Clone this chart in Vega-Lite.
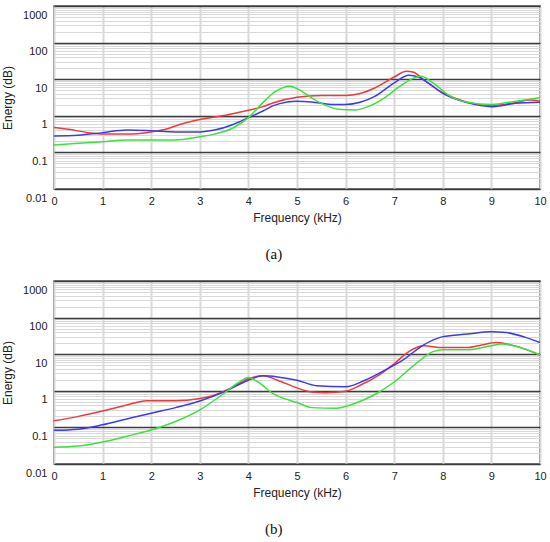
{
  "$schema": "https://vega.github.io/schema/vega-lite/v6.json",
  "padding": {"left": 0, "top": 5, "right": 4, "bottom": 5},
  "spacing": 17,
  "config": {
    "view": {"stroke": "#505050", "strokeWidth": 1.5},
    "font": "Liberation Sans",
    "axis": {
      "labelFont": "Liberation Sans",
      "titleFont": "Liberation Sans",
      "labelFontSize": 11,
      "titleFontSize": 12,
      "titleFontWeight": "normal",
      "labelColor": "#222",
      "titleColor": "#222",
      "ticks": false,
      "domain": false,
      "labelFlush": false,
      "labelOverlap": false
    }
  },
  "data": {"values": [
    {"panel": "a", "series": "red", "freq": 0, "energy": 0.479},
    {"panel": "a", "series": "red", "freq": 0.3, "energy": 0.427},
    {"panel": "a", "series": "red", "freq": 0.7, "energy": 0.347},
    {"panel": "a", "series": "red", "freq": 1, "energy": 0.316},
    {"panel": "a", "series": "red", "freq": 1.5, "energy": 0.316},
    {"panel": "a", "series": "red", "freq": 2, "energy": 0.363},
    {"panel": "a", "series": "red", "freq": 2.3, "energy": 0.427},
    {"panel": "a", "series": "red", "freq": 2.6, "energy": 0.589},
    {"panel": "a", "series": "red", "freq": 3, "energy": 0.794},
    {"panel": "a", "series": "red", "freq": 3.5, "energy": 1.023},
    {"panel": "a", "series": "red", "freq": 4, "energy": 1.413},
    {"panel": "a", "series": "red", "freq": 4.3, "energy": 1.778},
    {"panel": "a", "series": "red", "freq": 4.5, "energy": 2.24},
    {"panel": "a", "series": "red", "freq": 5, "energy": 3.236},
    {"panel": "a", "series": "red", "freq": 5.5, "energy": 3.59},
    {"panel": "a", "series": "red", "freq": 6, "energy": 3.59},
    {"panel": "a", "series": "red", "freq": 6.3, "energy": 4.07},
    {"panel": "a", "series": "red", "freq": 6.6, "energy": 5.75},
    {"panel": "a", "series": "red", "freq": 7, "energy": 11.48},
    {"panel": "a", "series": "red", "freq": 7.25, "energy": 16.6},
    {"panel": "a", "series": "red", "freq": 7.4, "energy": 15.5},
    {"panel": "a", "series": "red", "freq": 7.6, "energy": 9.77},
    {"panel": "a", "series": "red", "freq": 8, "energy": 4.27},
    {"panel": "a", "series": "red", "freq": 8.5, "energy": 2.34},
    {"panel": "a", "series": "red", "freq": 9, "energy": 1.905},
    {"panel": "a", "series": "red", "freq": 9.5, "energy": 2.29},
    {"panel": "a", "series": "red", "freq": 9.8, "energy": 2.69},
    {"panel": "a", "series": "red", "freq": 10, "energy": 2.51},

    {"panel": "a", "series": "blue", "freq": 0, "energy": 0.282},
    {"panel": "a", "series": "blue", "freq": 0.5, "energy": 0.295},
    {"panel": "a", "series": "blue", "freq": 1, "energy": 0.347},
    {"panel": "a", "series": "blue", "freq": 1.5, "energy": 0.407},
    {"panel": "a", "series": "blue", "freq": 2, "energy": 0.389},
    {"panel": "a", "series": "blue", "freq": 2.5, "energy": 0.363},
    {"panel": "a", "series": "blue", "freq": 3, "energy": 0.363},
    {"panel": "a", "series": "blue", "freq": 3.3, "energy": 0.407},
    {"panel": "a", "series": "blue", "freq": 3.7, "energy": 0.589},
    {"panel": "a", "series": "blue", "freq": 4, "energy": 0.891},
    {"panel": "a", "series": "blue", "freq": 4.3, "energy": 1.349},
    {"panel": "a", "series": "blue", "freq": 4.5, "energy": 1.862},
    {"panel": "a", "series": "blue", "freq": 4.8, "energy": 2.399},
    {"panel": "a", "series": "blue", "freq": 5, "energy": 2.512},
    {"panel": "a", "series": "blue", "freq": 5.3, "energy": 2.399},
    {"panel": "a", "series": "blue", "freq": 5.7, "energy": 2.042},
    {"panel": "a", "series": "blue", "freq": 6, "energy": 2.042},
    {"panel": "a", "series": "blue", "freq": 6.3, "energy": 2.344},
    {"panel": "a", "series": "blue", "freq": 6.6, "energy": 3.388},
    {"panel": "a", "series": "blue", "freq": 7, "energy": 7.943},
    {"panel": "a", "series": "blue", "freq": 7.3, "energy": 12.88},
    {"panel": "a", "series": "blue", "freq": 7.5, "energy": 11.48},
    {"panel": "a", "series": "blue", "freq": 7.7, "energy": 7.943},
    {"panel": "a", "series": "blue", "freq": 8, "energy": 4.074},
    {"panel": "a", "series": "blue", "freq": 8.5, "energy": 2.291},
    {"panel": "a", "series": "blue", "freq": 9, "energy": 1.778},
    {"panel": "a", "series": "blue", "freq": 9.5, "energy": 2.188},
    {"panel": "a", "series": "blue", "freq": 10, "energy": 2.344},

    {"panel": "a", "series": "green", "freq": 0, "energy": 0.158},
    {"panel": "a", "series": "green", "freq": 0.5, "energy": 0.178},
    {"panel": "a", "series": "green", "freq": 1, "energy": 0.195},
    {"panel": "a", "series": "green", "freq": 1.5, "energy": 0.219},
    {"panel": "a", "series": "green", "freq": 2, "energy": 0.219},
    {"panel": "a", "series": "green", "freq": 2.5, "energy": 0.219},
    {"panel": "a", "series": "green", "freq": 3, "energy": 0.269},
    {"panel": "a", "series": "green", "freq": 3.3, "energy": 0.316},
    {"panel": "a", "series": "green", "freq": 3.7, "energy": 0.479},
    {"panel": "a", "series": "green", "freq": 4, "energy": 0.891},
    {"panel": "a", "series": "green", "freq": 4.3, "energy": 2.291},
    {"panel": "a", "series": "green", "freq": 4.55, "energy": 4.571},
    {"panel": "a", "series": "green", "freq": 4.85, "energy": 6.457},
    {"panel": "a", "series": "green", "freq": 5.1, "energy": 4.677},
    {"panel": "a", "series": "green", "freq": 5.3, "energy": 3.09},
    {"panel": "a", "series": "green", "freq": 5.6, "energy": 1.905},
    {"panel": "a", "series": "green", "freq": 5.85, "energy": 1.514},
    {"panel": "a", "series": "green", "freq": 6.2, "energy": 1.445},
    {"panel": "a", "series": "green", "freq": 6.5, "energy": 1.862},
    {"panel": "a", "series": "green", "freq": 6.8, "energy": 3.09},
    {"panel": "a", "series": "green", "freq": 7.1, "energy": 6.166},
    {"panel": "a", "series": "green", "freq": 7.4, "energy": 10.72},
    {"panel": "a", "series": "green", "freq": 7.55, "energy": 12.02},
    {"panel": "a", "series": "green", "freq": 7.8, "energy": 7.943},
    {"panel": "a", "series": "green", "freq": 8.1, "energy": 3.802},
    {"panel": "a", "series": "green", "freq": 8.5, "energy": 2.344},
    {"panel": "a", "series": "green", "freq": 9, "energy": 2.042},
    {"panel": "a", "series": "green", "freq": 9.5, "energy": 2.512},
    {"panel": "a", "series": "green", "freq": 10, "energy": 3.09},

    {"panel": "b", "series": "red", "freq": 0, "energy": 0.151},
    {"panel": "b", "series": "red", "freq": 0.5, "energy": 0.2},
    {"panel": "b", "series": "red", "freq": 1, "energy": 0.282},
    {"panel": "b", "series": "red", "freq": 1.5, "energy": 0.407},
    {"panel": "b", "series": "red", "freq": 1.9, "energy": 0.537},
    {"panel": "b", "series": "red", "freq": 2.5, "energy": 0.537},
    {"panel": "b", "series": "red", "freq": 3, "energy": 0.617},
    {"panel": "b", "series": "red", "freq": 3.3, "energy": 0.759},
    {"panel": "b", "series": "red", "freq": 3.6, "energy": 1.122},
    {"panel": "b", "series": "red", "freq": 4, "energy": 2.138},
    {"panel": "b", "series": "red", "freq": 4.3, "energy": 2.57},
    {"panel": "b", "series": "red", "freq": 4.6, "energy": 1.95},
    {"panel": "b", "series": "red", "freq": 5, "energy": 1.202},
    {"panel": "b", "series": "red", "freq": 5.3, "energy": 0.933},
    {"panel": "b", "series": "red", "freq": 5.6, "energy": 0.891},
    {"panel": "b", "series": "red", "freq": 6, "energy": 0.977},
    {"panel": "b", "series": "red", "freq": 6.3, "energy": 1.413},
    {"panel": "b", "series": "red", "freq": 6.7, "energy": 2.754},
    {"panel": "b", "series": "red", "freq": 7, "energy": 5.495},
    {"panel": "b", "series": "red", "freq": 7.3, "energy": 11.75},
    {"panel": "b", "series": "red", "freq": 7.6, "energy": 16.98},
    {"panel": "b", "series": "red", "freq": 8, "energy": 15.14},
    {"panel": "b", "series": "red", "freq": 8.5, "energy": 15.14},
    {"panel": "b", "series": "red", "freq": 8.8, "energy": 17.78},
    {"panel": "b", "series": "red", "freq": 9.1, "energy": 20.89},
    {"panel": "b", "series": "red", "freq": 9.5, "energy": 16.6},
    {"panel": "b", "series": "red", "freq": 10, "energy": 9.55},

    {"panel": "b", "series": "blue", "freq": 0, "energy": 0.0832},
    {"panel": "b", "series": "blue", "freq": 0.5, "energy": 0.0891},
    {"panel": "b", "series": "blue", "freq": 1, "energy": 0.1175},
    {"panel": "b", "series": "blue", "freq": 1.5, "energy": 0.17},
    {"panel": "b", "series": "blue", "freq": 2, "energy": 0.245},
    {"panel": "b", "series": "blue", "freq": 2.5, "energy": 0.347},
    {"panel": "b", "series": "blue", "freq": 3, "energy": 0.525},
    {"panel": "b", "series": "blue", "freq": 3.5, "energy": 0.933},
    {"panel": "b", "series": "blue", "freq": 4, "energy": 1.95},
    {"panel": "b", "series": "blue", "freq": 4.3, "energy": 2.57},
    {"panel": "b", "series": "blue", "freq": 4.6, "energy": 2.399},
    {"panel": "b", "series": "blue", "freq": 5, "energy": 1.95},
    {"panel": "b", "series": "blue", "freq": 5.4, "energy": 1.38},
    {"panel": "b", "series": "blue", "freq": 6, "energy": 1.288},
    {"panel": "b", "series": "blue", "freq": 6.4, "energy": 1.95},
    {"panel": "b", "series": "blue", "freq": 6.8, "energy": 3.631},
    {"panel": "b", "series": "blue", "freq": 7.2, "energy": 7.244},
    {"panel": "b", "series": "blue", "freq": 7.6, "energy": 17.78},
    {"panel": "b", "series": "blue", "freq": 8, "energy": 30.2},
    {"panel": "b", "series": "blue", "freq": 8.5, "energy": 35.48},
    {"panel": "b", "series": "blue", "freq": 9, "energy": 40.74},
    {"panel": "b", "series": "blue", "freq": 9.3, "energy": 38.9},
    {"panel": "b", "series": "blue", "freq": 9.7, "energy": 28.84},
    {"panel": "b", "series": "blue", "freq": 10, "energy": 20.89},

    {"panel": "b", "series": "green", "freq": 0, "energy": 0.0288},
    {"panel": "b", "series": "green", "freq": 0.5, "energy": 0.0309},
    {"panel": "b", "series": "green", "freq": 1, "energy": 0.0398},
    {"panel": "b", "series": "green", "freq": 1.5, "energy": 0.0575},
    {"panel": "b", "series": "green", "freq": 2, "energy": 0.0851},
    {"panel": "b", "series": "green", "freq": 2.5, "energy": 0.1445},
    {"panel": "b", "series": "green", "freq": 3, "energy": 0.302},
    {"panel": "b", "series": "green", "freq": 3.5, "energy": 0.851},
    {"panel": "b", "series": "green", "freq": 3.8, "energy": 1.698},
    {"panel": "b", "series": "green", "freq": 4, "energy": 2.291},
    {"panel": "b", "series": "green", "freq": 4.2, "energy": 1.738},
    {"panel": "b", "series": "green", "freq": 4.5, "energy": 0.851},
    {"panel": "b", "series": "green", "freq": 4.6, "energy": 0.724},
    {"panel": "b", "series": "green", "freq": 5, "energy": 0.479},
    {"panel": "b", "series": "green", "freq": 5.3, "energy": 0.347},
    {"panel": "b", "series": "green", "freq": 5.8, "energy": 0.331},
    {"panel": "b", "series": "green", "freq": 6.2, "energy": 0.457},
    {"panel": "b", "series": "green", "freq": 6.6, "energy": 0.794},
    {"panel": "b", "series": "green", "freq": 7, "energy": 1.738},
    {"panel": "b", "series": "green", "freq": 7.4, "energy": 4.898},
    {"panel": "b", "series": "green", "freq": 7.8, "energy": 11.75},
    {"panel": "b", "series": "green", "freq": 8, "energy": 13.18},
    {"panel": "b", "series": "green", "freq": 8.5, "energy": 13.18},
    {"panel": "b", "series": "green", "freq": 9, "energy": 16.98},
    {"panel": "b", "series": "green", "freq": 9.2, "energy": 19.05},
    {"panel": "b", "series": "green", "freq": 9.5, "energy": 16.6},
    {"panel": "b", "series": "green", "freq": 10, "energy": 9.55}
  ]},
  "vconcat": [
    {
      "width": 486,
      "height": 183,
      "title": {"text": "(a)", "orient": "bottom", "frame": "bounds", "anchor": "middle", "font": "Liberation Serif", "fontSize": 15, "fontWeight": "normal", "color": "#111", "offset": 24},
      "transform": [{"filter": "datum.panel == 'a'"}],
      "mark": {"type": "line", "strokeWidth": 1.5, "interpolate": "monotone"},
      "encoding": {
        "x": {
          "field": "freq", "type": "quantitative",
          "scale": {"domain": [0, 10], "nice": false},
          "axis": {"title": "Frequency (kHz)", "values": [0, 1, 2, 3, 4, 5, 6, 7, 8, 9, 10], "gridColor": "#d8d8d8", "gridWidth": 2, "labelPadding": 6, "titlePadding": 6}
        },
        "y": {
          "field": "energy", "type": "quantitative",
          "scale": {"type": "log", "domain": [0.01, 1000], "nice": false},
          "axis": {
            "title": "Energy (dB)",
            "values": [0.01, 0.02, 0.03, 0.04, 0.05, 0.06, 0.07, 0.08, 0.09, 0.1, 0.2, 0.3, 0.4, 0.5, 0.6, 0.7, 0.8, 0.9, 1, 2, 3, 4, 5, 6, 7, 8, 9, 10, 20, 30, 40, 50, 60, 70, 80, 90, 100, 200, 300, 400, 500, 600, 700, 800, 900, 1000],
            "format": "~g",
            "labelExpr": "indexof([0.01, 0.1, 1, 10, 100, 1000], datum.value) >= 0 ? datum.label : ''",
            "labelOffset": 9,
            "labelPadding": 7,
            "titlePadding": 8,
            "gridColor": {"condition": {"test": "indexof([0.01, 0.1, 1, 10, 100, 1000], datum.value) >= 0", "value": "#3c3c3c"}, "value": "#d9d9d9"},
            "gridWidth": {"condition": {"test": "indexof([0.01, 0.1, 1, 10, 100, 1000], datum.value) >= 0", "value": 1.5}, "value": 1}
          }
        },
        "color": {"field": "series", "type": "nominal", "scale": {"domain": ["red", "blue", "green"], "range": ["#f03a3a", "#3a3af0", "#3ee03e"]}, "legend": null}
      }
    },
    {
      "width": 486,
      "height": 183,
      "title": {"text": "(b)", "orient": "bottom", "frame": "bounds", "anchor": "middle", "font": "Liberation Serif", "fontSize": 15, "fontWeight": "normal", "color": "#111", "offset": 24},
      "transform": [{"filter": "datum.panel == 'b'"}],
      "mark": {"type": "line", "strokeWidth": 1.5, "interpolate": "monotone"},
      "encoding": {
        "x": {
          "field": "freq", "type": "quantitative",
          "scale": {"domain": [0, 10], "nice": false},
          "axis": {"title": "Frequency (kHz)", "values": [0, 1, 2, 3, 4, 5, 6, 7, 8, 9, 10], "gridColor": "#d8d8d8", "gridWidth": 2, "labelPadding": 6, "titlePadding": 6}
        },
        "y": {
          "field": "energy", "type": "quantitative",
          "scale": {"type": "log", "domain": [0.01, 1000], "nice": false},
          "axis": {
            "title": "Energy (dB)",
            "values": [0.01, 0.02, 0.03, 0.04, 0.05, 0.06, 0.07, 0.08, 0.09, 0.1, 0.2, 0.3, 0.4, 0.5, 0.6, 0.7, 0.8, 0.9, 1, 2, 3, 4, 5, 6, 7, 8, 9, 10, 20, 30, 40, 50, 60, 70, 80, 90, 100, 200, 300, 400, 500, 600, 700, 800, 900, 1000],
            "format": "~g",
            "labelExpr": "indexof([0.01, 0.1, 1, 10, 100, 1000], datum.value) >= 0 ? datum.label : ''",
            "labelOffset": 9,
            "labelPadding": 7,
            "titlePadding": 8,
            "gridColor": {"condition": {"test": "indexof([0.01, 0.1, 1, 10, 100, 1000], datum.value) >= 0", "value": "#3c3c3c"}, "value": "#d9d9d9"},
            "gridWidth": {"condition": {"test": "indexof([0.01, 0.1, 1, 10, 100, 1000], datum.value) >= 0", "value": 1.5}, "value": 1}
          }
        },
        "color": {"field": "series", "type": "nominal", "scale": {"domain": ["red", "blue", "green"], "range": ["#f03a3a", "#3a3af0", "#3ee03e"]}, "legend": null}
      }
    }
  ]
}
